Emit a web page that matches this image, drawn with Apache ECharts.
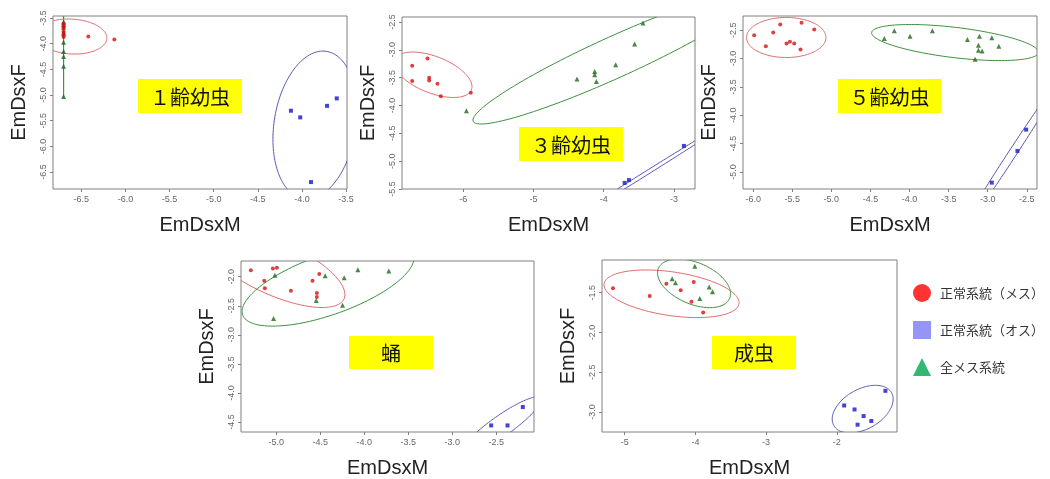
<!DOCTYPE html>
<html>
<head>
<meta charset="utf-8">
<script src="https://cdn.jsdelivr.net/npm/echarts@6/dist/echarts.min.js"></script>
<style>
  html, body { margin: 0; padding: 0; background: #fff; }
  #main { width: 1050px; height: 479px; }
</style>
</head>
<body>
<div id="main"></div>
<script>
// 凡例の系統名
const groupNames = ['正常系統（メス）', '正常系統（オス）', '全メス系統']
const stageLabels = ['１齢幼虫', '３齢幼虫', '５齢幼虫', '蛹', '成虫']

// 1齢幼虫
const p1Female = [[-6.70, -3.60], [-6.70, -3.65], [-6.70, -3.69], [-6.70, -3.76], [-6.70, -3.79], [-6.70, -3.84], [-6.70, -3.87], [-6.42, -3.86], [-6.125, -3.92]]
const p1Male = [[-4.125, -5.305], [-4.02, -5.435], [-3.716, -5.21], [-3.606, -5.065], [-3.898, -6.695]]
const p1AllF = [[-6.70, -3.58], [-6.70, -3.63], [-6.70, -3.68], [-6.70, -3.79], [-6.70, -3.97], [-6.70, -4.15], [-6.70, -4.25], [-6.70, -4.44], [-6.70, -5.03]]
// 3齢幼虫
const p2Female = [[-6.725, -3.286], [-6.725, -3.562], [-6.507, -3.154], [-6.483, -3.502], [-6.483, -3.55], [-6.365, -3.61], [-6.318, -3.832], [-5.891, -3.772]]
const p2Male = [[-3.701, -5.39], [-3.64, -5.34], [-2.858, -4.726]]
const p2AllF = [[-5.953, -4.096], [-4.379, -3.526], [-4.128, -3.388], [-4.128, -3.448], [-4.104, -3.568], [-3.829, -3.268], [-3.559, -2.896], [-3.441, -2.518]]
// 5齢幼虫
const p3Female = [[-5.987, -2.588], [-5.838, -2.782], [-5.744, -2.541], [-5.654, -2.40], [-5.573, -2.735], [-5.530, -2.706], [-5.475, -2.735], [-5.394, -2.841], [-5.381, -2.371], [-5.219, -2.488]]
const p3Male = [[-2.948, -5.188], [-2.62, -4.629], [-2.509, -4.253]]
const p3AllF = [[-4.323, -2.647], [-4.195, -2.512], [-3.994, -2.606], [-3.708, -2.512], [-3.26, -2.665], [-3.106, -2.606], [-3.119, -2.765], [-3.119, -2.853], [-3.072, -2.865], [-2.948, -2.635], [-2.858, -2.782], [-3.161, -3.012]]
// 蛹
const p4Female = [[-5.288, -1.887], [-5.038, -1.859], [-4.992, -1.847], [-5.136, -2.068], [-5.129, -2.198], [-4.833, -2.243], [-4.587, -2.068], [-4.511, -1.955], [-4.538, -2.282], [-4.538, -2.351]]
const p4Male = [[-2.557, -4.557], [-2.371, -4.557], [-2.197, -4.24]]
const p4AllF = [[-5.015, -1.977], [-5.03, -2.718], [-4.545, -2.407], [-4.443, -1.983], [-4.227, -2.017], [-4.246, -2.492], [-4.072, -1.881], [-3.72, -1.904]]
// 成虫
const p5Female = [[-5.165, -1.446], [-4.646, -1.542], [-4.41, -1.388], [-4.207, -1.471], [-4.023, -1.367], [-4.055, -1.613], [-3.89, -1.75]]
const p5Male = [[-1.897, -2.917], [-1.75, -2.967], [-1.622, -3.05], [-1.707, -3.158], [-1.513, -3.112], [-1.314, -2.733]]
const p5AllF = [[-4.008, -1.167], [-4.329, -1.325], [-4.282, -1.375], [-3.805, -1.429], [-3.758, -1.488], [-3.937, -1.575]]

// 信頼楕円: 中心(cx, cy) と共役半径ベクトル u, v  [cx, cy, ux, uy, vx, vy]
// 並び順: メス, オス, 全メス
const p1Ellipse = [[-6.61, -3.86, 0.40, -0.03, 0.0, 0.34], [-3.853, -5.585, 0.476, 0.275, 0.0, 1.415], [-6.70, -4.25, 0.0, 0.80, 0.001, 0.0]]
const p2Ellipse = [[-6.427, -3.448, 0.545, -0.27, 0.095, 0.306], [-3.40, -5.22, 1.232, 0.972, 0.014, -0.03], [-3.840, -3.129, 2.020, 1.133, 0.0, 0.405]]
const p3Ellipse = [[-5.577, -2.629, 0.508, 0.0, 0.0, 0.353], [-2.692, -4.688, 0.683, 1.441, 0.043, -0.038], [-3.418, -2.718, 1.067, -0.176, 0.021, 0.265]]
const p4Ellipse = [[-5.014, -1.849, 0.795, -0.459, 0.0, 0.502], [-2.445, -4.570, 0.455, 0.476, 0.045, -0.170], [-4.411, -2.138, 0.977, 0.459, 0.0, 0.544]]
const p5Ellipse = [[-4.337, -1.514, 0.955, -0.112, 0.0, 0.277], [-1.635, -2.963, 0.431, 0.125, 0.0, 0.272], [-4.019, -1.383, 0.516, -0.131, 0.0, 0.276]]

// 目盛り
const p1XTicks = [-6.5, -6.0, -5.5, -5.0, -4.5, -4.0, -3.5]
const p1YTicks = [-6.5, -6.0, -5.5, -5.0, -4.5, -4.0, -3.5]
const p2XTicks = [-6, -5, -4, -3]
const p2YTicks = [-5.5, -5.0, -4.5, -4.0, -3.5, -3.0, -2.5]
const p3XTicks = [-6.0, -5.5, -5.0, -4.5, -4.0, -3.5, -3.0, -2.5]
const p3YTicks = [-5.0, -4.5, -4.0, -3.5, -3.0, -2.5]
const p4XTicks = [-5.0, -4.5, -4.0, -3.5, -3.0, -2.5]
const p4YTicks = [-4.5, -4.0, -3.5, -3.0, -2.5, -2.0]
const p5XTicks = [-5, -4, -3, -2]
const p5YTicks = [-3.0, -2.5, -2.0, -1.5]

const panels = [
  { grid: [53, 16, 294, 173], x: [-6.82, -3.49], y: [-6.83, -3.46], xt: p1XTicks, yt: p1YTicks, dec: 1,
    female: p1Female, male: p1Male, allF: p1AllF, ell: p1Ellipse, box: [138, 79, 104, 34] },
  { grid: [402, 17, 293, 172], x: [-6.87, -2.70], y: [-5.50, -2.41], xt: p2XTicks, yt: p2YTicks, dec: 0, ydec: 1,
    female: p2Female, male: p2Male, allF: p2AllF, ell: p2Ellipse, box: [519, 127, 104, 34] },
  { grid: [743, 16, 294, 173], x: [-6.13, -2.37], y: [-5.30, -2.25], xt: p3XTicks, yt: p3YTicks, dec: 1,
    female: p3Female, male: p3Male, allF: p3AllF, ell: p3Ellipse, box: [838, 79, 103, 34] },
  { grid: [241, 261, 293, 173], x: [-5.40, -2.07], y: [-4.67, -1.73], xt: p4XTicks, yt: p4YTicks, dec: 1,
    female: p4Female, male: p4Male, allF: p4AllF, ell: p4Ellipse, box: [349, 336, 84, 33] },
  { grid: [602, 260, 295, 173], x: [-5.32, -1.15], y: [-3.25, -1.09], xt: p5XTicks, yt: p5YTicks, dec: 0, ydec: 1,
    female: p5Female, male: p5Male, allF: p5AllF, ell: p5Ellipse, box: [712, 336, 84, 33] }
]

const ellipseColors = ['#e06a6a', '#5a5ab8', '#3f8f3f']

function ellipseItem(params, api) {
  const cx = api.value(0)
  const cy = api.value(1)
  const ux = api.value(2)
  const uy = api.value(3)
  const vx = api.value(4)
  const vy = api.value(5)
  const pts = []
  for (let i = 0; i <= 144; i++) {
    const t = (i / 144) * Math.PI * 2
    pts.push(api.coord([cx + ux * Math.cos(t) + vx * Math.sin(t), cy + uy * Math.cos(t) + vy * Math.sin(t)]))
  }
  const cs = params.coordSys
  return {
    type: 'polyline',
    shape: { points: pts },
    clipPath: { type: 'rect', shape: { x: cs.x, y: cs.y, width: cs.width, height: cs.height } },
    style: { stroke: api.visual('color'), fill: null, lineWidth: 1 }
  }
}

const grids = []
const xAxes = []
const yAxes = []
const series = []
const graphics = []

panels.forEach((p, i) => {
  grids.push({
    left: p.grid[0], top: p.grid[1], width: p.grid[2], height: p.grid[3],
    show: true, borderColor: '#808080', borderWidth: 1, backgroundColor: '#fff'
  })
  const tickCommon = { show: true, length: 3, lineStyle: { color: '#808080' } }
  xAxes.push({
    gridIndex: i, type: 'value', min: p.x[0], max: p.x[1],
    name: 'EmDsxM', nameLocation: 'middle', nameGap: 26,
    nameTextStyle: { fontSize: 20, color: '#222', fontFamily: 'Liberation Sans' },
    axisLine: { show: false }, splitLine: { show: false },
    axisTick: Object.assign({ customValues: p.xt }, tickCommon),
    axisLabel: {
      customValues: p.xt, fontSize: 9, color: '#666', margin: 6, fontFamily: 'Liberation Sans',
      formatter: (v) => v.toFixed(p.dec)
    }
  })
  yAxes.push({
    gridIndex: i, type: 'value', min: p.y[0], max: p.y[1],
    name: 'EmDsxF', nameLocation: 'middle', nameGap: 24, nameRotate: 90,
    nameTextStyle: { fontSize: 20, color: '#222', fontFamily: 'Liberation Sans' },
    axisLine: { show: false }, splitLine: { show: false },
    axisTick: Object.assign({ customValues: p.yt }, tickCommon),
    axisLabel: {
      customValues: p.yt, fontSize: 9, color: '#666', margin: 5, rotate: 90, fontFamily: 'Liberation Sans',
      formatter: (v) => v.toFixed(p.ydec !== undefined ? p.ydec : p.dec)
    }
  })
  series.push({
    name: 'ellipse' + i, type: 'custom', xAxisIndex: i, yAxisIndex: i,
    renderItem: ellipseItem, silent: true, z: 1,
    encode: { x: 0, y: 1 },
    data: p.ell.map((e, k) => ({ value: e, itemStyle: { color: ellipseColors[k] } }))
  })
  series.push({
    name: groupNames[0], type: 'scatter', xAxisIndex: i, yAxisIndex: i,
    symbol: 'circle', symbolSize: 4, itemStyle: { color: '#d41010' }, data: p.female, z: 3
  })
  series.push({
    name: groupNames[1], type: 'scatter', xAxisIndex: i, yAxisIndex: i,
    symbol: 'rect', symbolSize: 4, itemStyle: { color: '#1515c8' }, data: p.male, z: 3
  })
  series.push({
    name: groupNames[2], type: 'scatter', xAxisIndex: i, yAxisIndex: i,
    symbol: 'triangle', symbolSize: 5, itemStyle: { color: '#1c6a1c' }, data: p.allF, z: 2
  })
  graphics.push({
    type: 'rect', left: p.box[0], top: p.box[1],
    shape: { width: p.box[2], height: p.box[3] },
    style: { fill: '#ffff00' }, z: 10
  })
  graphics.push({
    type: 'text', x: p.box[0] + p.box[2] / 2, y: p.box[1] + p.box[3] / 2 + 1,
    style: {
      text: stageLabels[i], fill: '#111', fontSize: 20, fontFamily: 'Noto Sans CJK JP',
      textAlign: 'center', textVerticalAlign: 'middle'
    }, z: 11
  })
})

const chart = echarts.init(document.getElementById('main'))
chart.setOption({
  backgroundColor: '#fff',
  animation: false,
  grid: grids,
  xAxis: xAxes,
  yAxis: yAxes,
  legend: {
    orient: 'vertical', left: 908, top: 279,
    itemWidth: 18, itemHeight: 18, itemGap: 19, selectedMode: false,
    textStyle: { fontSize: 13, color: '#333', fontFamily: 'Noto Sans CJK JP', padding: [0, 0, 0, 4] },
    data: [
      { name: groupNames[0], icon: 'circle', itemStyle: { color: '#ff0000' } },
      { name: groupNames[1], icon: 'rect', itemStyle: { color: '#7b7bf2' } },
      { name: groupNames[2], icon: 'triangle', itemStyle: { color: '#00a650' } }
    ]
  },
  graphic: graphics,
  series: series
})
</script>
</body>
</html>
